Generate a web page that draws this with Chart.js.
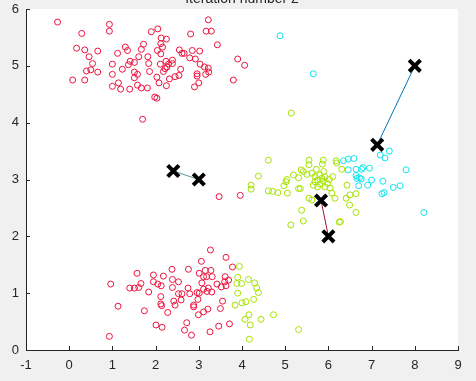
<!DOCTYPE html>
<html>
<head>
<meta charset="utf-8">
<script src="https://cdn.jsdelivr.net/npm/chart.js@4.4.1/dist/chart.umd.min.js"></script>
<style>
  html, body { margin: 0; padding: 0; background: #f0f0f0; overflow: hidden; }
  #wrap { width: 476px; height: 381px; position: absolute; top: 0; left: 0; }
  #c { position: absolute; top: 0; left: 0; display: block; }
</style>
</head>
<body>
<div id="wrap"><canvas id="c" width="476" height="381"></canvas></div>
<script>
const chartTitle = 'Iteration number 2';
const xTicks = [-1, 0, 1, 2, 3, 4, 5, 6, 7, 8, 9];
const yTicks = [0, 1, 2, 3, 4, 5, 6];

const cluster1Points = [
  [-0.27,5.77],[0.93,5.73],[0.93,5.61],[0.29,5.57],[0.17,5.31],[0.36,5.28],[0.66,5.26],[0.46,5.16],
  [0.54,5.04],[1.0,5.03],[1.12,5.22],[1.30,5.33],[1.35,5.27],[1.72,5.38],[1.67,5.29],[1.61,5.16],
  [1.41,5.08],[1.51,5.06],[1.37,5.02],[1.82,5.16],[1.84,5.04],[1.23,4.94],[0.40,4.91],[0.50,4.93],
  [0.66,4.89],[1.0,4.85],[1.51,4.89],[1.58,4.85],[1.51,4.79],[0.08,4.75],[0.36,4.75],[1.14,4.70],
  [1.0,4.64],[1.19,4.59],[1.40,4.59],[1.58,4.66],[1.67,4.61],[1.81,4.61],[1.70,4.06],
  [3.22,5.81],[2.05,5.65],[1.90,5.60],[3.17,5.61],[3.29,5.61],[2.81,5.56],[2.13,5.49],[2.25,5.47],
  [3.43,5.37],[2.12,5.39],[2.16,5.33],[2.04,5.27],[2.12,5.21],[2.55,5.28],[2.61,5.22],[2.66,5.22],
  [2.85,5.27],[3.02,5.26],[2.79,5.14],[2.92,5.12],[3.90,5.12],[4.06,5.01],[2.39,5.10],[2.24,5.08],
  [2.11,5.03],[2.30,5.03],[2.39,5.04],[3.03,5.03],[3.13,4.98],[3.22,4.96],[2.22,4.95],[2.26,4.98],
  [2.18,4.90],[2.58,4.94],[1.86,4.90],[3.23,4.89],[3.16,4.85],[2.54,4.83],[2.45,4.81],[2.96,4.86],
  [2.96,4.82],[2.03,4.80],[2.32,4.77],[3.80,4.75],[2.08,4.70],[3.0,4.70],[2.90,4.63],[2.25,4.65],
  [1.98,4.45],[2.03,4.43],
  [3.47,2.70],[3.96,2.72],
  [1.57,1.35],[1.95,1.32],[2.18,1.30],[2.38,1.42],[2.76,1.42],[0.96,1.16],[1.40,1.09],[1.51,1.09],
  [1.61,1.10],[1.66,1.17],[1.95,1.20],[2.05,1.16],[2.13,1.13],[2.39,1.24],[2.53,1.20],[2.39,1.10],
  [1.84,1.02],[2.12,0.94],[2.75,1.09],[2.96,1.01],[2.79,0.99],[2.53,0.99],[2.61,0.99],[2.42,0.86],
  [2.45,0.79],[2.59,0.88],[2.12,0.81],[2.14,0.78],[2.88,0.79],[2.88,0.76],[2.98,0.89],[1.13,0.77],
  [1.74,0.69],[2.28,0.66],[2.99,0.62],[2.72,0.48],[2.67,0.35],[2.01,0.44],[2.15,0.40],[2.83,0.26],
  [0.93,0.24],
  [3.27,1.76],[3.63,1.63],[3.06,1.56],[3.78,1.46],[3.01,1.35],[3.15,1.40],[3.28,1.40],[3.18,1.29],
  [3.31,1.29],[3.11,1.29],[3.61,1.29],[3.69,1.23],[3.60,1.20],[3.42,1.16],[3.52,1.11],[3.63,1.13],
  [3.07,1.18],[3.11,1.07],[3.22,1.09],[3.30,1.02],[3.19,1.03],[3.01,1.0],[3.55,0.86],[3.50,0.73],
  [3.21,0.72],[3.11,0.67],[3.46,0.42],[3.71,0.46],[3.26,0.32]
];

const cluster2Points = [
  [4.61,3.34],[4.38,3.06],[4.21,2.90],[4.21,2.83],[4.61,2.80],[4.71,2.79],[4.83,2.77],[5.05,2.76],
  [4.97,2.89],[5.02,2.96],[5.04,3.0],[5.19,3.08],[5.31,3.03],[5.31,2.84],[5.35,2.84],[5.55,3.34],
  [5.55,3.26],[5.88,3.34],[5.86,3.27],[5.37,3.17],[5.42,3.14],[5.50,3.09],[5.62,3.11],[5.69,3.05],
  [5.75,2.99],[5.89,3.14],[5.92,3.04],[6.02,3.0],[5.75,2.87],[5.92,2.87],[6.04,2.85],[6.18,3.33],
  [5.55,2.67],[5.62,2.64],[5.38,2.46],[5.42,2.27],[5.13,2.20],[6.08,2.76],[6.15,2.67],[6.25,2.25],
  [6.31,3.18],[6.43,2.90],[6.50,2.73],[6.64,2.75],[6.41,2.67],[6.49,2.55],[6.64,2.42],[6.28,2.26],
  [6.19,3.29],[5.69,2.96],[5.81,2.92],[5.88,2.97],[5.72,3.18],[5.80,3.08],[5.65,2.90],[5.98,2.93],
  [5.85,3.02],[6.10,3.05],[5.14,4.17],
  [3.94,1.47],[3.90,1.28],[3.99,1.17],[3.88,1.17],[4.15,1.24],[4.29,1.18],[4.34,1.09],[4.38,1.01],
  [3.90,1.00],[4.09,0.85],[4.00,0.83],[3.84,0.79],[4.27,0.89],[4.16,0.62],[4.07,0.54],[4.19,0.44],
  [4.44,0.54],[4.73,0.62],[4.17,0.19],[5.31,0.36]
];

const cluster3Points = [
  [4.88,5.53],[5.65,4.86],[6.35,3.33],[6.46,3.36],[6.59,3.37],[7.20,3.43],[7.31,3.38],[7.41,3.50],
  [6.80,3.21],[6.95,3.20],[6.77,3.18],[6.46,3.17],[6.64,3.18],[7.80,3.17],[6.64,3.07],[6.72,3.03],
  [6.66,3.02],[6.76,3.01],[7.00,2.99],[7.26,2.97],[6.70,2.89],[6.91,2.90],[7.50,2.86],[7.66,2.89],
  [7.24,2.75],[7.29,2.77],[8.21,2.42]
];

const previousCentroids = [[3.0,3.0],[6.0,2.0],[8.0,5.0]];
const currentCentroids = [[2.41,3.15],[5.83,2.63],[7.13,3.61]];

const clusterColors = ['#ee1440', '#a6e400', '#10e6ee'];
const moveLineColors = ['#5f97a6', '#a2142f', '#0072bd'];

const toXY = arr => arr.map(p => ({x: p[0], y: p[1]}));

const datasets = [];
[cluster1Points, cluster2Points, cluster3Points].forEach((pts, i) => {
  datasets.push({
    type: 'scatter',
    data: toXY(pts),
    pointStyle: 'circle',
    pointRadius: 3,
    pointBorderWidth: 1,
    borderColor: clusterColors[i],
    backgroundColor: 'rgba(0,0,0,0)',
    pointHoverRadius: 3,
    order: 3
  });
});
previousCentroids.forEach((p, i) => {
  const c = currentCentroids[i];
  datasets.push({
    type: 'line',
    data: toXY([p, c]),
    borderColor: moveLineColors[i],
    borderWidth: 1,
    pointRadius: 0,
    fill: false,
    order: 2
  });
});
datasets.push({
  type: 'scatter',
  data: toXY(previousCentroids.concat(currentCentroids)),
  pointStyle: 'crossRot',
  pointRadius: 8,
  pointBorderWidth: 4,
  borderColor: '#000000',
  backgroundColor: '#000000',
  order: 1
});

const bgPlugin = {
  id: 'bg',
  beforeDraw(chart) {
    const {ctx, chartArea} = chart;
    ctx.save();
    ctx.fillStyle = '#f0f0f0';
    ctx.fillRect(0, 0, chart.width, chart.height);
    ctx.fillStyle = '#ffffff';
    ctx.fillRect(chartArea.left, chartArea.top, chartArea.right - chartArea.left, chartArea.bottom - chartArea.top);
    ctx.restore();
  }
};

const inwardTicks = {
  id: 'inwardTicks',
  afterDatasetsDraw(chart) {
    const {ctx, chartArea, scales} = chart;
    ctx.save();
    ctx.strokeStyle = '#262626';
    ctx.lineWidth = 1;
    ctx.beginPath();
    xTicks.forEach(v => {
      const px = Math.round(scales.x.getPixelForValue(v)) + 0.5;
      ctx.moveTo(px, chartArea.bottom);
      ctx.lineTo(px, chartArea.bottom - 4);
    });
    yTicks.forEach(v => {
      const py = Math.round(scales.y.getPixelForValue(v)) + 0.5;
      ctx.moveTo(chartArea.left, py);
      ctx.lineTo(chartArea.left + 4, py);
    });
    ctx.stroke();
    ctx.fillStyle = '#262626';
    ctx.font = '14px "Liberation Sans", Arial, sans-serif';
    ctx.textAlign = 'center';
    ctx.textBaseline = 'alphabetic';
    ctx.fillText(chartTitle, (chartArea.left + chartArea.right) / 2, 3);
    ctx.restore();
  }
};

new Chart(document.getElementById('c'), {
  data: { datasets },
  options: {
    responsive: false,
    animation: false,
    devicePixelRatio: 1,
    layout: { autoPadding: false, padding: { left: 0, right: 18, top: 9, bottom: 0 } },
    plugins: { legend: { display: false }, tooltip: { enabled: false }, title: { display: false } },
    scales: {
      x: {
        type: 'linear',
        min: -1, max: 9,
        afterBuildTicks(scale) { scale.ticks = xTicks.map(v => ({value: v})); },
        afterFit(scale) { scale.height = 31; scale.paddingLeft = 0; scale.paddingRight = 0; },
        grid: { display: false, drawTicks: false },
        border: { display: true, color: '#262626', width: 1 },
        ticks: {
          color: '#262626',
          font: { family: '"Liberation Sans", Arial, sans-serif', size: 13 },
          padding: 8,
          maxRotation: 0,
          autoSkip: false
        }
      },
      y: {
        type: 'linear',
        min: 0, max: 6,
        afterBuildTicks(scale) { scale.ticks = yTicks.map(v => ({value: v})); },
        afterFit(scale) { scale.width = 26; scale.paddingTop = 0; scale.paddingBottom = 0; },
        grid: { display: false, drawTicks: false },
        border: { display: true, color: '#262626', width: 1 },
        ticks: {
          color: '#262626',
          font: { family: '"Liberation Sans", Arial, sans-serif', size: 13 },
          padding: 7,
          autoSkip: false
        }
      }
    }
  },
  plugins: [bgPlugin, inwardTicks]
});
</script>
</body>
</html>
